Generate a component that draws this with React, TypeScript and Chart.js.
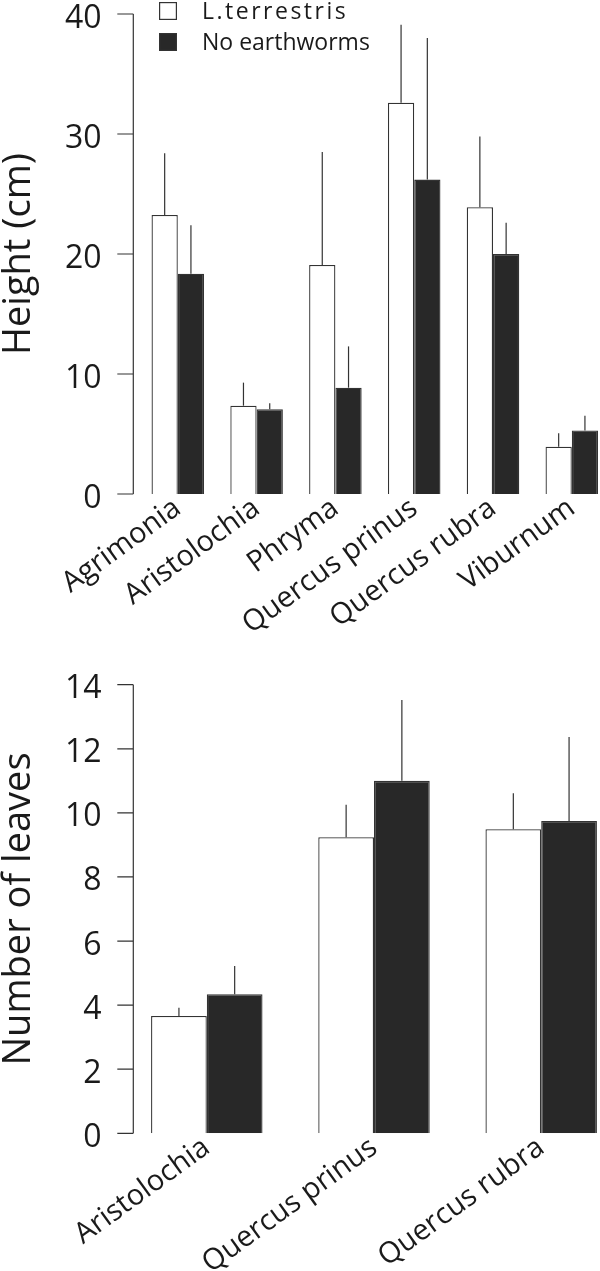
import React, { useEffect, useRef } from "react";
import { Chart, registerables } from "chart.js";

Chart.register(...registerables);

// ---------- data ----------
const SERIES_LABELS = ["L.terrestris", "No earthworms"];

const HEIGHT_CATEGORIES = ["Agrimonia", "Aristolochia", "Phryma", "Quercus prinus", "Quercus rubra", "Viburnum"];
const HEIGHT_TERRESTRIS = [23.25, 7.36, 19.08, 32.6, 23.9, 3.94];
const HEIGHT_TERRESTRIS_UPPER = [28.4, 9.28, 28.5, 39.1, 29.8, 5.06];
const HEIGHT_NO_WORMS = [18.36, 7.06, 8.86, 26.2, 20.0, 5.3];
const HEIGHT_NO_WORMS_UPPER = [22.4, 7.56, 12.3, 38.0, 22.6, 6.53];
const HEIGHT_TICKS = [0, 10, 20, 30, 40];

const LEAF_CATEGORIES = ["Aristolochia", "Quercus prinus", "Quercus rubra"];
const LEAF_TERRESTRIS = [3.66, 9.24, 9.49];
const LEAF_TERRESTRIS_UPPER = [3.92, 10.25, 10.61];
const LEAF_NO_WORMS = [4.34, 11.0, 9.75];
const LEAF_NO_WORMS_UPPER = [5.22, 13.52, 12.37];
const LEAF_TICKS = [0, 2, 4, 6, 8, 10, 12, 14];

// ---------- style ----------
const FONT = "'Open Sans', 'DejaVu Sans', sans-serif";
const TEXT = "#1a1a1a";
const LINE = "#333333";
const FILL_WHITE = "#ffffff";
const FILL_BLACK = "#282828";

Chart.defaults.font.family = FONT;
Chart.defaults.color = TEXT;

const errorBarPlugin = {
  id: "errorBars",
  afterDatasetsDraw(chart: any) {
    const ctx = chart.ctx;
    const y = chart.scales.y;
    ctx.save();
    ctx.strokeStyle = LINE;
    ctx.lineWidth = 1.2;
    chart.data.datasets.forEach((ds: any, i: number) => {
      const meta = chart.getDatasetMeta(i);
      meta.data.forEach((bar: any, j: number) => {
        const top = y.getPixelForValue(ds.upper[j]);
        ctx.beginPath();
        ctx.moveTo(bar.x, bar.y);
        ctx.lineTo(bar.x, top);
        ctx.stroke();
      });
    });
    ctx.restore();
  },
};

// y axis line, tick marks and tick labels (R-style detached axis)
const axisLinePlugin = {
  id: "axisLine",
  afterDraw(chart: any, _args: any, opts: any) {
    const ctx = chart.ctx;
    const y = chart.scales.y;
    const ax = opts.x;
    ctx.save();
    ctx.strokeStyle = LINE;
    ctx.lineWidth = 1.2;
    ctx.beginPath();
    ctx.moveTo(ax, y.getPixelForValue(y.min));
    ctx.lineTo(ax, y.getPixelForValue(y.max));
    y.ticks.forEach((t: any) => {
      const py = y.getPixelForValue(t.value);
      ctx.moveTo(ax - opts.tickLength, py);
      ctx.lineTo(ax, py);
    });
    ctx.stroke();
    ctx.fillStyle = TEXT;
    ctx.font = `${opts.fontSize}px ${FONT}`;
    ctx.textAlign = "right";
    ctx.textBaseline = "alphabetic";
    y.ticks.forEach((t: any) => {
      const py = y.getPixelForValue(t.value);
      ctx.fillText(String(t.value), opts.labelRight, py + opts.baselineShift);
    });
    ctx.restore();
  },
};

const boxLegendPlugin = {
  id: "boxLegend",
  afterDraw(chart: any, _args: any, opts: any) {
    if (!opts || !opts.show) return;
    const ctx = chart.ctx;
    ctx.save();
    chart.data.datasets.forEach((ds: any, i: number) => {
      const top = opts.y + i * opts.gap;
      ctx.fillStyle = ds.backgroundColor;
      ctx.strokeStyle = LINE;
      ctx.lineWidth = 1.2;
      ctx.fillRect(opts.x, top, opts.box, opts.box);
      ctx.strokeRect(opts.x + 0.6, top + 0.6, opts.box - 1.2, opts.box - 1.2);
      ctx.fillStyle = TEXT;
      ctx.font = `${opts.fontSize}px ${FONT}`;
      ctx.textBaseline = "middle";
      ctx.textAlign = "left";
      (ctx as any).letterSpacing = i === 0 ? opts.spacing0 : "0px";
      ctx.fillText(ds.label, opts.textX, top + opts.box / 2 + 1);
    });
    ctx.restore();
  },
};

type PanelSpec = {
  categories: string[];
  a: number[];
  aUp: number[];
  b: number[];
  bUp: number[];
  ticks: number[];
  title: string;
  yWidth: number;
  xHeight: number;
  padTop: number;
  padRight: number;
  xPad: number;
  legend: boolean;
};

function makeConfig(p: PanelSpec): any {
  return {
    type: "bar",
    data: {
      labels: p.categories,
      datasets: [
        {
          label: SERIES_LABELS[0],
          data: p.a,
          upper: p.aUp,
          backgroundColor: FILL_WHITE,
          borderColor: LINE,
          borderWidth: 1.3,
          categoryPercentage: 2 / 3,
          barPercentage: 1,
        },
        {
          label: SERIES_LABELS[1],
          data: p.b,
          upper: p.bUp,
          backgroundColor: FILL_BLACK,
          borderColor: LINE,
          borderWidth: 1.3,
          categoryPercentage: 2 / 3,
          barPercentage: 1,
        },
      ],
    },
    plugins: [errorBarPlugin, axisLinePlugin, boxLegendPlugin],
    options: {
      animation: false,
      responsive: false,
      maintainAspectRatio: false,
      layout: { padding: { top: p.padTop, right: p.padRight, bottom: 0, left: 0 } },
      plugins: {
        legend: { display: false },
        tooltip: { enabled: false },
        axisLine: { x: 133.3, tickLength: 16, fontSize: 32, labelRight: 101.5, baselineShift: 13.5 },
        boxLegend: {
          show: p.legend,
          x: 159,
          y: 2,
          gap: 31,
          box: 18,
          textX: 202,
          fontSize: 23,
          spacing0: "2.5px",
        },
      },
      scales: {
        x: {
          type: "category",
          offset: true,
          grid: { display: false, drawTicks: false },
          border: { display: false },
          ticks: {
            autoSkip: false,
            minRotation: 36,
            maxRotation: 36,
            padding: p.xPad,
            color: TEXT,
            font: { size: 29, family: FONT },
          },
          afterFit: (s: any) => {
            s.height = p.xHeight;
            s.paddingLeft = 0;
            s.paddingRight = 0;
          },
        },
        y: {
          min: p.ticks[0],
          max: p.ticks[p.ticks.length - 1],
          grid: { display: false, drawTicks: false },
          border: { display: false },
          afterBuildTicks: (s: any) => {
            s.ticks = p.ticks.map((v) => ({ value: v }));
          },
          ticks: { display: false },
          title: {
            display: true,
            text: p.title,
            color: TEXT,
            font: { size: 38, family: FONT, lineHeight: 1 },
            padding: { top: 0, bottom: 0 },
          },
          afterFit: (s: any) => {
            s.width = p.yWidth;
            s.paddingTop = 0;
            s.paddingBottom = 0;
          },
        },
      },
    },
  };
}

function Panel({ spec, width, height }: { spec: PanelSpec; width: number; height: number }) {
  const ref = useRef<HTMLCanvasElement | null>(null);
  useEffect(() => {
    if (!ref.current) return;
    const chart = new Chart(ref.current, makeConfig(spec));
    return () => chart.destroy();
  }, []);
  return <canvas ref={ref} width={width} height={height} style={{ display: "block", width, height }} />;
}

const heightSpec: PanelSpec = {
  categories: HEIGHT_CATEGORIES,
  a: HEIGHT_TERRESTRIS,
  aUp: HEIGHT_TERRESTRIS_UPPER,
  b: HEIGHT_NO_WORMS,
  bUp: HEIGHT_NO_WORMS_UPPER,
  ticks: HEIGHT_TICKS,
  title: "Height (cm)",
  yWidth: 138.4,
  xHeight: 146,
  padTop: 14,
  padRight: 8.8,
  xPad: -3,
  legend: true,
};

const leafSpec: PanelSpec = {
  categories: LEAF_CATEGORIES,
  a: LEAF_TERRESTRIS,
  aUp: LEAF_TERRESTRIS_UPPER,
  b: LEAF_NO_WORMS,
  bUp: LEAF_NO_WORMS_UPPER,
  ticks: LEAF_TICKS,
  title: "Number of leaves",
  yWidth: 123.2,
  xHeight: 137.7,
  padTop: 44.7,
  padRight: 5.2,
  xPad: -3,
  legend: false,
};

export default function App() {
  return (
    <div
      style={{
        position: "absolute",
        left: 0,
        top: 0,
        width: 600,
        height: 1271,
        overflow: "hidden",
        background: "#ffffff",
      }}
    >
      <Panel spec={heightSpec} width={620} height={640} />
      <Panel spec={leafSpec} width={630} height={631} />
    </div>
  );
}
